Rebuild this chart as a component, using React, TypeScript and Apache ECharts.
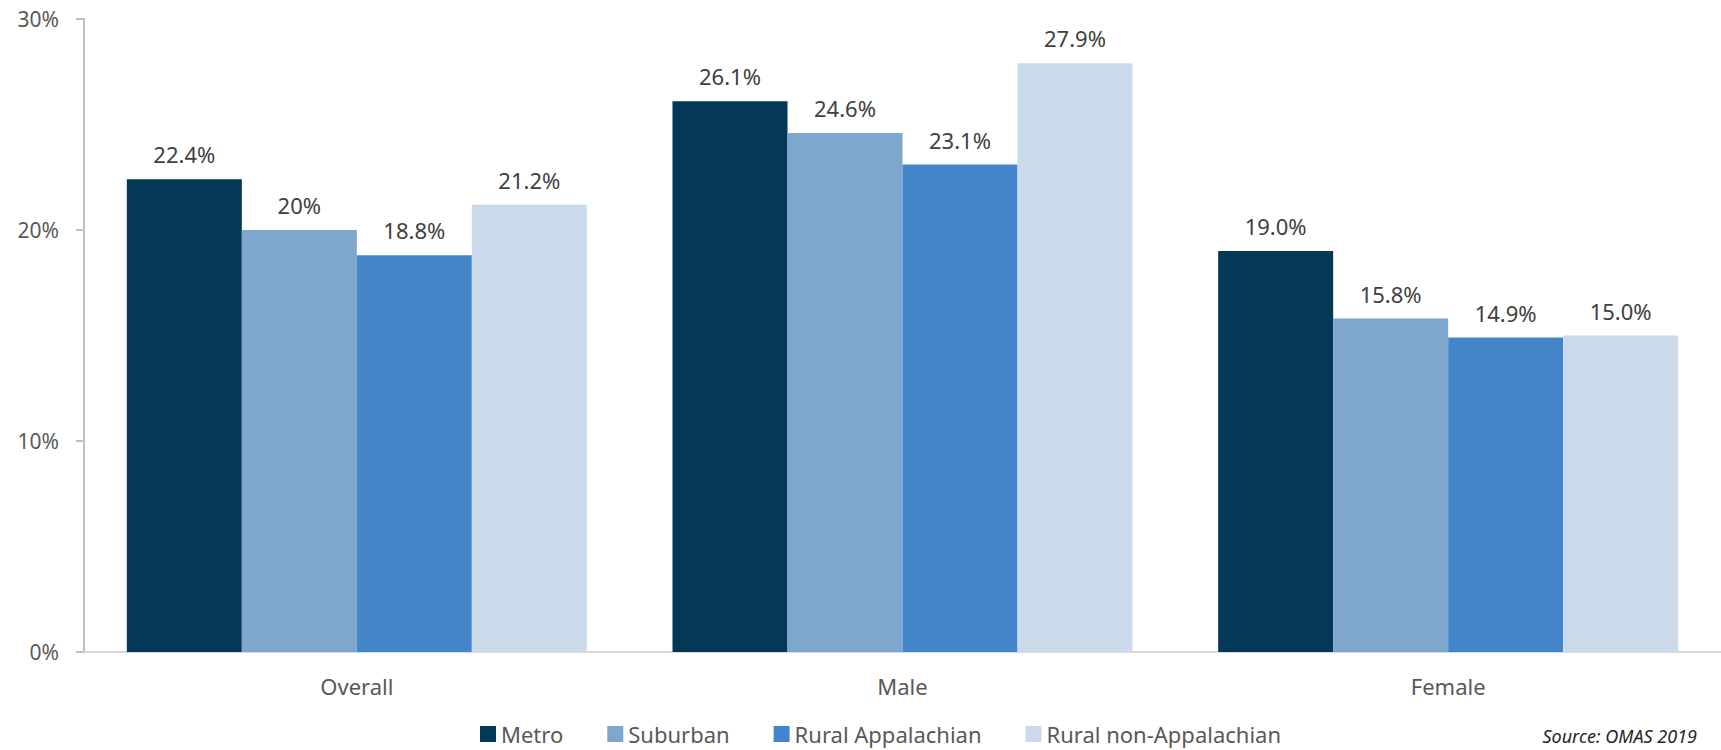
import React, { useEffect, useRef } from "react";
import * as echarts from "echarts";

const categories = ["Overall", "Male", "Female"];
const seriesNames = ["Metro", "Suburban", "Rural Appalachian", "Rural non-Appalachian"];
const metro = [22.4, 26.1, 19.0];
const suburban = [20, 24.6, 15.8];
const ruralApp = [18.8, 23.1, 14.9];
const ruralNonApp = [21.2, 27.9, 15.0];
const metroLabels = ["22.4%", "26.1%", "19.0%"];
const suburbanLabels = ["20%", "24.6%", "15.8%"];
const ruralAppLabels = ["18.8%", "23.1%", "14.9%"];
const ruralNonAppLabels = ["21.2%", "27.9%", "15.0%"];
const yTicks = [0, 10, 20, 30];
const sourceText = "Source: OMAS 2019";

const colors = ["#033957", "#7FA6CC", "#4285C9", "#CBDAEA"];
const FONT = "Noto Sans";

export default function App() {
  const ref = useRef<HTMLDivElement>(null);
  useEffect(() => {
    if (!ref.current) return;
    const chart = echarts.init(ref.current, null, { renderer: "svg" });
    const values = [metro, suburban, ruralApp, ruralNonApp];
    const labels = [metroLabels, suburbanLabels, ruralAppLabels, ruralNonAppLabels];
    chart.setOption({
      animation: false,
      textStyle: { fontFamily: FONT },
      grid: { left: 84, right: 0, top: 19, bottom: 98, containLabel: false },
      legend: {
        data: seriesNames,
        left: 480,
        top: 723,
        padding: 0,
        itemWidth: 16,
        itemHeight: 16,
        itemGap: 44,
        icon: "rect",
        textStyle: { fontSize: 22, color: "#595959", fontFamily: FONT },
      },
      xAxis: {
        type: "category",
        data: categories,
        axisLine: { show: true, lineStyle: { color: "#D9D9D9", width: 2 } },
        axisTick: { show: false },
        axisLabel: { fontSize: 22, color: "#595959", margin: 23, fontFamily: FONT },
      },
      yAxis: {
        type: "value",
        min: yTicks[0],
        max: yTicks[yTicks.length - 1],
        interval: 10,
        splitLine: { show: false },
        axisLine: { show: true, lineStyle: { color: "#BFBFBF", width: 2 } },
        axisTick: { show: true, length: 8, lineStyle: { color: "#BFBFBF", width: 2 } },
        axisLabel: { fontSize: 21, color: "#595959", margin: 25, formatter: "{value}%", fontFamily: FONT },
      },
      series: seriesNames.map((name, i) => ({
        name,
        type: "bar",
        data: values[i],
        barGap: "0%",
        barCategoryGap: "15.7%",
        itemStyle: { color: colors[i] },
        label: {
          show: true,
          position: "top",
          distance: 14,
          fontSize: 22,
          color: "#404040",
          fontFamily: FONT,
          formatter: (p: any) => labels[i][p.dataIndex],
        },
      })),
      graphic: [
        {
          type: "text",
          right: 24,
          top: 727,
          style: { text: sourceText, fontSize: 18, fontStyle: "italic", fill: "#262626", fontFamily: FONT },
        },
      ],
    });
    return () => chart.dispose();
  }, []);
  return (
    <div
      ref={ref}
      style={{ position: "fixed", left: 0, top: 0, width: 1721, height: 750, background: "#ffffff" }}
    />
  );
}
